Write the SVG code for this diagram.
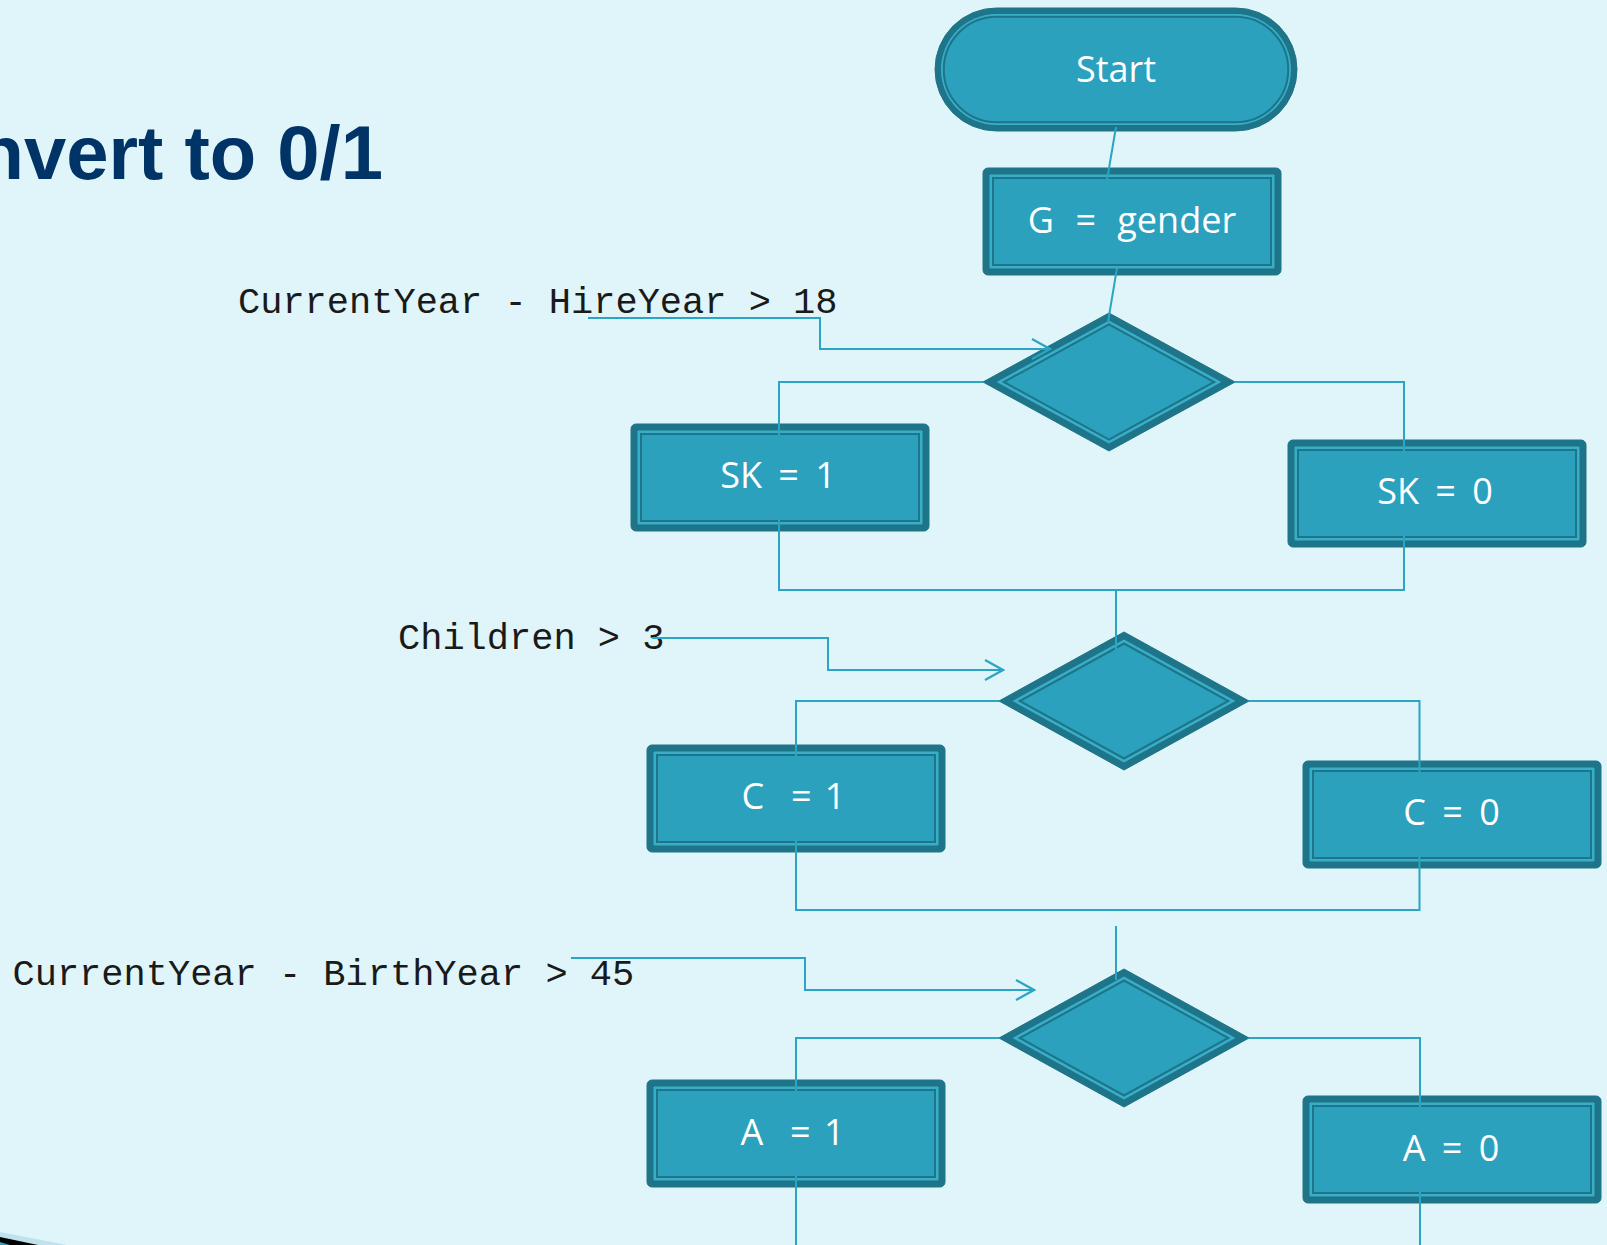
<svg xmlns="http://www.w3.org/2000/svg" width="1607" height="1245" viewBox="0 0 1607 1245">
  <style>
    .bg { fill: #DFF5F9; }
    .outer { fill: #1E7488; stroke: #1E7488; stroke-width: 1; stroke-linejoin: round; }
    .mid { fill: #38AEC9; }
    .inner { fill: #2BA1BE; stroke: #1E7488; stroke-width: 2; }
    .lbl { font-family: "Open Sans", "Noto Sans", "DejaVu Sans", sans-serif; font-size: 36px; fill: #FFFFFF; text-anchor: middle; white-space: pre; word-spacing: 7px; }
    .cond { font-family: "Liberation Mono", "Courier New", monospace; font-size: 37px; fill: #1A1A1A; white-space: pre; }
    .title { font-family: "Liberation Sans", Arial, sans-serif; font-size: 76px; font-weight: bold; fill: #003366; text-anchor: end; }
    .wire { fill: none; stroke: #2BA5C3; stroke-width: 2; }
    .arrow { fill: none; stroke: #2BA5C3; stroke-width: 2; marker-end: url(#chev); }
  </style>
  <defs>
    <marker id="chev" markerUnits="userSpaceOnUse" markerWidth="22" markerHeight="24" viewBox="0 0 22 24" refX="20" refY="12" orient="auto">
      <path d="M2,2 L20,12 L2,22" fill="none" stroke="#2BA5C3" stroke-width="2.2"/>
    </marker>
  </defs>

  <rect class="bg" x="0" y="0" width="1607" height="1245"/>

  <!-- slide corner swoosh -->
  <polygon points="0,1232 67,1245 0,1245" fill="#BFE2EC"/>
  <polygon points="0,1237 38,1245 0,1245" fill="#000000"/>
  <polygon points="0,1242 10,1245 0,1245" fill="#2BA1BE"/>

  <text class="title" x="383" y="179">nvert to 0/1</text>

  <!-- condition labels -->
  <text class="cond" x="238" y="313">CurrentYear - HireYear &gt; 18</text>
  <text class="cond" x="398" y="649">Children &gt; 3</text>
  <text class="cond" x="12.5" y="985">CurrentYear - BirthYear &gt; 45</text>

  <!-- terminator -->
  <g id="start">
    <rect class="outer" x="935" y="8" width="362" height="123" rx="61.5"/>
    <rect class="mid" x="941" y="14" width="350" height="111" rx="55.5"/>
    <rect class="inner" x="943.75" y="16.75" width="344.5" height="105.5" rx="52.75" stroke-width="1.5"/>
    <text class="lbl" x="1116" y="82" font-size="38">Start</text>
  </g>

  <g id="gender">
    <rect class="outer" x="983" y="168" width="298" height="107" rx="5"/>
    <rect class="mid" x="989.5" y="174.5" width="285" height="94" rx="1"/>
    <rect class="inner" x="993" y="178" width="278" height="87"/>
    <text class="lbl" x="1132" y="233" style="word-spacing: 12px">G = gender</text>
  </g>

  <g id="decision1">
    <polygon class="outer" points="1109,313 1235,382 1109,451 983,382"/>
    <polygon class="mid" points="1109,320.4 1221.5,382 1109,443.6 996.5,382"/>
    <polygon class="inner" points="1109,324.4 1214.2,382 1109,439.6 1003.8,382"/>
  </g>

  <g id="sk1">
    <rect class="outer" x="631" y="424" width="298" height="107" rx="5"/>
    <rect class="mid" x="637.5" y="430.5" width="285" height="94" rx="1"/>
    <rect class="inner" x="641" y="434" width="278" height="87"/>
    <text class="lbl" x="778" y="488">SK = 1</text>
  </g>

  <g id="sk0">
    <rect class="outer" x="1288" y="440" width="298" height="107" rx="5"/>
    <rect class="mid" x="1294.5" y="446.5" width="285" height="94" rx="1"/>
    <rect class="inner" x="1298" y="450" width="278" height="87"/>
    <text class="lbl" x="1435" y="504">SK = 0</text>
  </g>

  <g id="decision2">
    <polygon class="outer" points="1124,632 1249,701 1124,770 999,701"/>
    <polygon class="mid" points="1124,639.5 1235.5,701 1124,762.5 1012.5,701"/>
    <polygon class="inner" points="1124,643.5 1228.3,701 1124,758.5 1019.7,701"/>
  </g>

  <g id="c1">
    <rect class="outer" x="647" y="745" width="298" height="107" rx="5"/>
    <rect class="mid" x="653.5" y="751.5" width="285" height="94" rx="1"/>
    <rect class="inner" x="657" y="755" width="278" height="87"/>
    <text class="lbl" x="793.5" y="809" style="word-spacing: 4px">C  = 1</text>
  </g>

  <g id="c0">
    <rect class="outer" x="1303" y="761" width="298" height="107" rx="5"/>
    <rect class="mid" x="1309.5" y="767.5" width="285" height="94" rx="1"/>
    <rect class="inner" x="1313" y="771" width="278" height="87"/>
    <text class="lbl" x="1451.5" y="825">C = 0</text>
  </g>

  <g id="decision3">
    <polygon class="outer" points="1124,969 1249,1038 1124,1107 999,1038"/>
    <polygon class="mid" points="1124,976.5 1235.5,1038 1124,1099.5 1012.5,1038"/>
    <polygon class="inner" points="1124,980.5 1228.3,1038 1124,1095.5 1019.7,1038"/>
  </g>

  <g id="a1">
    <rect class="outer" x="647" y="1080" width="298" height="107" rx="5"/>
    <rect class="mid" x="653.5" y="1086.5" width="285" height="94" rx="1"/>
    <rect class="inner" x="657" y="1090" width="278" height="87"/>
    <text class="lbl" x="792.5" y="1145" style="word-spacing: 4px">A  = 1</text>
  </g>

  <g id="a0">
    <rect class="outer" x="1303" y="1096" width="298" height="107" rx="5"/>
    <rect class="mid" x="1309.5" y="1102.5" width="285" height="94" rx="1"/>
    <rect class="inner" x="1313" y="1106" width="278" height="87"/>
    <text class="lbl" x="1451" y="1161">A = 0</text>
  </g>

  <g id="connectors">
    <path class="wire" d="M1116,127 L1107,180"/>
    <path class="wire" d="M1117,268 L1108,322"/>
    <!-- first decision branches and merge -->
    <path class="wire" d="M983,382 H779 V435"/>
    <path class="wire" d="M1235,382 H1404 V452"/>
    <path class="wire" d="M779,520 V590 H1404 V536"/>
    <path class="wire" d="M1116,590 V650"/>
    <!-- second decision branches and merge -->
    <path class="wire" d="M999,701 H796 V756"/>
    <path class="wire" d="M1249,701 H1419.5 V772"/>
    <path class="wire" d="M796,840 V910 H1419.5 V856"/>
    <path class="wire" d="M1116,926 V980"/>
    <!-- third decision branches -->
    <path class="wire" d="M999,1038 H796 V1091"/>
    <path class="wire" d="M1249,1038 H1420 V1107"/>
    <path class="wire" d="M796,1176 V1245"/>
    <path class="wire" d="M1420,1192 V1245"/>
    <!-- condition pointers -->
    <path class="arrow" d="M588,318 H820 V349 H1050"/>
    <path class="arrow" d="M652,638 H828 V670 H1003"/>
    <path class="arrow" d="M571,958 H805 V990 H1034"/>
  </g>
</svg>
